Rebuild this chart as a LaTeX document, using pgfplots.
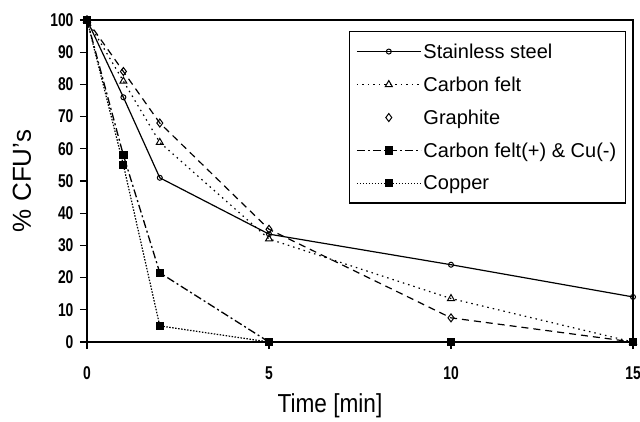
\documentclass[border=0pt]{standalone}
\usepackage{fontspec}
\setmainfont{Liberation Sans}
\newfontfamily\tickfont[FakeStretch=0.75]{Liberation Sans}
\newfontfamily\labelfont[FakeStretch=0.87]{Liberation Sans}
\usepackage{pgfplots}
\pgfplotsset{compat=1.18}

\begin{document}
\begin{tikzpicture}
\path[use as bounding box] (-87pt,-79pt) rectangle (553pt,342pt);
\begin{axis}[
    at={(0,0)}, anchor=south west,
    scale only axis,
    width=546pt, height=322pt,
    xmin=0, xmax=15, ymin=0, ymax=100,
    xtick={0,5,10,15},
    ytick={0,10,...,100},
    tick pos=left,
    tick align=outside,
    major tick length=7pt,
    axis line style={line width=1.5pt},
    tick style={line width=1.2pt, black},
    /pgf/number format/assume math mode=true,
    tick label style={font=\tickfont\bfseries\fontsize{18.5}{18.5}\selectfont},
    xticklabel style={yshift=-14pt},
    yticklabel style={xshift=-3pt},
    xlabel={Time [min]},
    ylabel={\% CFU's},
    every axis x label/.style={at={(axis description cs:0.445,-0.197)}, anchor=center, font=\labelfont\fontsize{26}{26}\selectfont},
    every axis y label/.style={at={(axis description cs:-0.119,0.5)}, rotate=90, anchor=center, font=\fontsize{26}{26}\selectfont},
    legend image code/.code={\draw[mark repeat=2,mark phase=2,#1] plot coordinates {(0pt,0pt) (32pt,0pt) (64pt,0pt)};},
    legend style={at={(0.987,0.966)}, anchor=north east, draw=black, line width=1.2pt,
        font=\fontsize{20}{20}\selectfont, row sep=13pt, inner xsep=7pt, inner ysep=10pt,
        cells={anchor=west}},
    legend cell align=left,
]
\addplot[black, line width=1.2pt, mark=o, mark size=2.5pt, mark options={solid, fill=white, line width=1pt}]
    coordinates {(0,100) (1,76) (2,51) (5,33.5) (10,24) (15,14)};
\addlegendentry{Stainless steel}
\addplot[black, line width=1.2pt, dash pattern=on 1.5pt off 4pt, mark=triangle, mark size=4pt, mark options={solid, fill=white, line width=1pt}]
    coordinates {(0,100) (1,81) (2,62) (5,32) (10,13.5) (15,0)};
\addlegendentry{Carbon felt}
\addlegendimage{only marks, black, mark=diamond, mark size=4pt, mark options={solid, fill=white, line width=1pt}}
\addlegendentry{Graphite}
\addplot[forget plot, black, line width=1.2pt, dash pattern=on 7pt off 5pt, mark=diamond, mark size=4pt, mark options={solid, fill=white, line width=1pt}]
    coordinates {(0,100) (1,84) (2,68) (5,35) (10,7.5) (15,0)};
\addplot[black, line width=1.3pt, dash pattern=on 8pt off 3pt on 2pt off 3pt, mark=square*, mark size=3.5pt, mark options={solid}]
    coordinates {(0,100) (1,58) (2,21.5) (5,0) (10,0) (15,0)};
\addlegendentry{Carbon felt(+) \& Cu(-)}
\addplot[black, line width=1.2pt, dash pattern=on 1.5pt off 1.5pt, mark=square*, mark size=3.5pt, mark options={solid}]
    coordinates {(0,100) (1,55) (2,5) (5,0) (10,0) (15,0)};
\addlegendentry{Copper}
\end{axis}
\end{tikzpicture}
\end{document}
